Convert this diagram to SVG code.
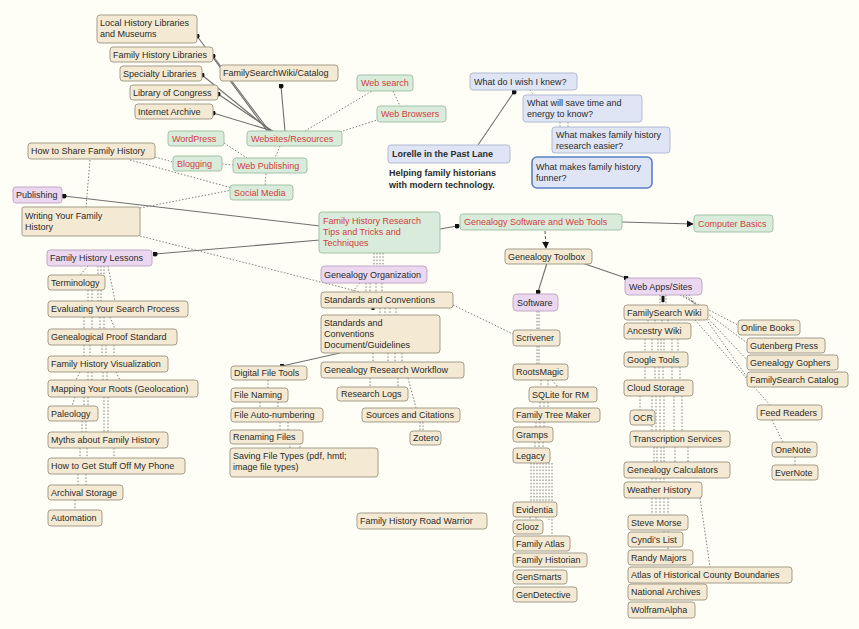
<svg xmlns="http://www.w3.org/2000/svg" width="859" height="629" viewBox="0 0 859 629">
<defs>
<style>
text{font-family:"Liberation Sans",Arial,sans-serif;font-size:9px;fill:#2b2b2b}
.r{fill:#d23c3c}
.bd{font-weight:bold}
.b{fill:#f4e9d2;stroke:#a49d8c;stroke-width:1}
.g{fill:#d9ecdb;stroke:#a3c2a7;stroke-width:1}
.p{fill:#ebd7ef;stroke:#c0a8c6;stroke-width:1}
.q{fill:#dfe5f5;stroke:#b0bad3;stroke-width:1}
.qs{fill:#dfe5f5;stroke:#5a7fc6;stroke-width:1.6}
.s{stroke:#6f6f6f;stroke-width:1.1;fill:none}
.d{stroke:#7d7d7d;stroke-width:1;fill:none;stroke-dasharray:1.5 1.8}
.dd{stroke:#555;stroke-width:1;fill:none;stroke-dasharray:3 2}
</style>
<marker id="dot" viewBox="0 0 6 6" refX="3" refY="3" markerWidth="5" markerHeight="5" markerUnits="userSpaceOnUse"><circle cx="3" cy="3" r="3" fill="#111"/></marker>
<marker id="arr" viewBox="0 0 10 10" refX="9" refY="5" markerWidth="7" markerHeight="7" markerUnits="userSpaceOnUse" orient="auto"><path d="M0,0L10,5L0,10z" fill="#111"/></marker>
</defs>
<rect width="859" height="629" fill="#fffef6"/>
<g id="connectors">
<line class="s" x1="268" y1="132" x2="197" y2="36" marker-end="url(#dot)"/>
<line class="s" x1="270" y1="132" x2="213" y2="56" marker-end="url(#dot)"/>
<line class="s" x1="272" y1="132" x2="202" y2="75" marker-end="url(#dot)"/>
<line class="s" x1="274" y1="132" x2="218" y2="94" marker-end="url(#dot)"/>
<line class="s" x1="276" y1="132" x2="213" y2="113" marker-end="url(#dot)"/>
<line class="s" x1="285" y1="131" x2="281" y2="86" marker-end="url(#dot)"/>
<line class="d" x1="305" y1="131" x2="372" y2="91"/>
<line class="d" x1="340" y1="132" x2="377" y2="120"/>
<line class="d" x1="393" y1="91" x2="400" y2="106"/>
<line class="d" x1="224" y1="143" x2="247" y2="158"/>
<line class="d" x1="222" y1="164" x2="233" y2="165"/>
<line class="d" x1="280" y1="146" x2="275" y2="158"/>
<line class="d" x1="265" y1="185" x2="266" y2="173"/>
<line class="d" x1="155" y1="157" x2="173" y2="162"/>
<line class="d" x1="130" y1="160" x2="232" y2="188"/>
<line class="d" x1="140" y1="208" x2="232" y2="190"/>
<line class="d" x1="90" y1="160" x2="86" y2="207"/>
<line class="d" x1="140" y1="236" x2="360" y2="292"/>
<line class="s" x1="320" y1="226" x2="64" y2="196" marker-end="url(#dot)"/>
<line class="s" x1="320" y1="240" x2="155" y2="254" marker-end="url(#dot)"/>
<line class="s" x1="440" y1="229" x2="457" y2="226" marker-end="url(#dot)"/>
<line class="s" x1="622" y1="222" x2="693" y2="224" marker-end="url(#arr)"/>
<line class="dd" x1="545" y1="231" x2="546" y2="248" marker-end="url(#arr)"/>
<line class="s" x1="547" y1="263" x2="538" y2="292" marker-end="url(#dot)"/>
<line class="s" x1="582" y1="263" x2="626" y2="278" marker-end="url(#dot)"/>
<line class="s" x1="340" y1="353" x2="282" y2="366" marker-end="url(#dot)"/>
<line class="s" x1="478" y1="145" x2="514" y2="92" marker-end="url(#dot)"/>
<!-- central to organization -->
<path class="d" d="M374,253V266M377,253V266M380,253V266M383,253V266"/>
<path class="d" d="M360,283L352,292M366,283V292M370,283V292M376,283V292M382,283V292"/>
<path class="d" d="M380,308V315M385,308V315M390,308V315M396,308V315"/>
<line x1="373" y1="308" x2="373" y2="310" stroke="#111" stroke-width="3"/>
<path class="d" d="M373,353V362M388,353V362M395,353V362M402,353V362"/>
<path class="d" d="M370,378V387M408,378L416,408M398,378V387M420,422V431M423,422V431"/>
<path class="d" d="M268,380V388M260,402V408M278,402V408M280,422V430M288,422V430M290,443V448M300,443V448"/>
<line class="d" x1="453" y1="305" x2="513" y2="334"/>
<!-- lessons column -->
<path class="d" d="M88,266L80,275M98,266V275M101,266V275M104,266V275M108,266L115,301"/>
<path class="d" d="M88,290V301M92,290V301M98,290V301M101,290V301"/>
<path class="d" d="M84,317V329M92,317V329M100,317V329M104,317V329M110,317L115,329"/>
<path class="d" d="M84,345V356M90,345V356M102,345V356M106,345V356M114,345V356"/>
<path class="d" d="M80,372L76,380M88,372V380M92,372V380M103,372V380M107,372V380M116,372L120,380"/>
<path class="d" d="M75,397L72,406M84,397V406M88,397V406M104,397V432M108,397V432"/>
<path class="d" d="M82,421V432M86,421V432"/>
<path class="d" d="M80,448V458M87,448V458M114,448V458"/>
<path class="d" d="M78,474V485M86,474V485"/>
<path class="d" d="M75,500V510"/>
<!-- software column -->
<path class="d" d="M537,311V330M539,311V330"/>
<path class="d" d="M537,346V364M539,346V364"/>
<path class="d" d="M541,380V387M548,380V387M552,380L558,387"/>
<path class="d" d="M540,402V408M544,402V408M548,402V408"/>
<path class="d" d="M536,422V427M540,422V427M544,422V427"/>
<path class="d" d="M535,442V448M539,442V448M543,442V448"/>
<path class="d" d="M531,463V502M534,463V502M537,463V502M540,463V502M543,463V502M546,463V502M549,463V520M552,463V536"/>
<path class="d" d="M530,517V520M536,517V520"/>
<!-- web apps column -->
<path class="d" d="M660,295V305M663,295V305M666,295V305"/>
<line x1="663" y1="296" x2="663" y2="302" stroke="#111" stroke-width="3"/>
<path class="d" d="M648,320V323M655,320V323M662,320V323M668,320V323"/>
<path class="d" d="M645,339V352M652,339V352M658,339V352M661,339V352M664,339V352M672,339V352M678,339V352"/>
<path class="d" d="M645,367V380M655,367V380M659,367V380M663,367V380M672,367V380M680,367V380"/>
<path class="d" d="M640,396V410M652,396V431M656,396V431M660,396V431M664,396V431M674,396V431M682,396V431"/>
<path class="d" d="M654,447V462M657,447V462M661,447V462M664,447V462M675,447V462M688,447V462"/>
<path class="d" d="M652,478V482M656,478V482M660,478V482M664,478V482"/>
<path class="d" d="M652,498V515M656,498V515M660,498V515M664,498V532M668,498V550"/>
<line class="d" x1="700" y1="498" x2="710" y2="567"/>
<line class="d" x1="680" y1="295" x2="738" y2="325"/>
<line class="d" x1="683" y1="295" x2="747" y2="343"/>
<line class="d" x1="686" y1="295" x2="747" y2="360"/>
<line class="d" x1="689" y1="295" x2="747" y2="377"/>
<line class="d" x1="695" y1="320" x2="770" y2="405"/>
<line class="d" x1="772" y1="420" x2="783" y2="442"/>
<line class="d" x1="795" y1="457" x2="795" y2="465"/>
<path class="d" d="M530,90L534,95M560,122V127M568,122V127"/>
</g>
<g id="n-local-history"><rect class="b" x="97" y="15" width="100" height="28" rx="3"/><text x="100" y="26">Local History Libraries</text><text x="100" y="37">and Museums</text></g>
<g id="n-family-history-libraries"><rect class="b" x="110" y="47" width="103" height="15" rx="3"/><text x="113" y="58">Family History Libraries</text></g>
<g id="n-specialty-libraries"><rect class="b" x="120" y="66" width="82" height="15" rx="3"/><text x="123" y="77">Specialty Libraries</text></g>
<g id="n-library-of-congress"><rect class="b" x="130" y="85" width="88" height="15" rx="3"/><text x="133" y="96">Library of Congress</text></g>
<g id="n-internet-archive"><rect class="b" x="135" y="104" width="78" height="15" rx="3"/><text x="138" y="115">Internet Archive</text></g>
<g id="n-familysearch-wiki-catalog"><rect class="b" x="220" y="65" width="118" height="16" rx="3"/><text x="223" y="76">FamilySearchWiki/Catalog</text></g>
<g id="n-web-search"><rect class="g" x="357" y="75" width="56" height="16" rx="3"/><text class="r" x="361" y="86">Web search</text></g>
<g id="n-web-browsers"><rect class="g" x="377" y="106" width="69" height="16" rx="3"/><text class="r" x="381" y="117">Web Browsers</text></g>
<g id="n-websites-resources"><rect class="g" x="247" y="131" width="95" height="15" rx="3"/><text class="r" x="251" y="142">Websites/Resources</text></g>
<g id="n-wordpress"><rect class="g" x="168" y="131" width="56" height="15" rx="3"/><text class="r" x="172" y="142">WordPress</text></g>
<g id="n-blogging"><rect class="g" x="173" y="156" width="49" height="15" rx="3"/><text class="r" x="177" y="167">Blogging</text></g>
<g id="n-web-publishing"><rect class="g" x="233" y="158" width="74" height="15" rx="3"/><text class="r" x="237" y="169">Web Publishing</text></g>
<g id="n-social-media"><rect class="g" x="230" y="185" width="63" height="15" rx="3"/><text class="r" x="234" y="196">Social Media</text></g>
<g id="n-how-to-share"><rect class="b" x="28" y="143" width="127" height="16" rx="3"/><text x="31" y="154">How to Share Family History</text></g>
<g id="n-publishing"><rect class="p" x="13" y="187" width="49" height="16" rx="3"/><text x="16" y="198">Publishing</text></g>
<g id="n-writing"><rect class="b" x="22" y="207" width="118" height="29" rx="2"/><text x="25" y="219">Writing Your Family</text><text x="25" y="230">History</text></g>
<g id="n-fh-lessons"><rect class="p" x="47" y="250" width="105" height="16" rx="3"/><text x="50" y="261">Family History Lessons</text></g>
<g id="n-terminology"><rect class="b" x="48" y="275" width="57" height="15" rx="3"/><text x="51" y="286">Terminology</text></g>
<g id="n-evaluating"><rect class="b" x="48" y="301" width="140" height="16" rx="3"/><text x="51" y="312">Evaluating Your Search Process</text></g>
<g id="n-proof-standard"><rect class="b" x="48" y="329" width="129" height="16" rx="3"/><text x="51" y="340">Genealogical Proof Standard</text></g>
<g id="n-visualization"><rect class="b" x="48" y="356" width="120" height="16" rx="3"/><text x="51" y="367">Family History Visualization</text></g>
<g id="n-mapping"><rect class="b" x="48" y="380" width="150" height="17" rx="3"/><text x="51" y="392">Mapping Your Roots (Geolocation)</text></g>
<g id="n-paleology"><rect class="b" x="48" y="406" width="50" height="15" rx="3"/><text x="51" y="417">Paleology</text></g>
<g id="n-myths"><rect class="b" x="48" y="432" width="120" height="16" rx="3"/><text x="51" y="443">Myths about Family History</text></g>
<g id="n-phone"><rect class="b" x="48" y="458" width="137" height="16" rx="3"/><text x="51" y="469">How to Get Stuff Off My Phone</text></g>
<g id="n-archival"><rect class="b" x="48" y="485" width="75" height="15" rx="3"/><text x="51" y="496">Archival Storage</text></g>
<g id="n-automation"><rect class="b" x="48" y="510" width="54" height="16" rx="3"/><text x="51" y="521">Automation</text></g>
<g id="n-central"><rect class="g" x="319" y="212" width="121" height="41" rx="3"/><text class="r" x="323" y="224">Family History Research</text><text class="r" x="323" y="235">Tips and Tricks and</text><text class="r" x="323" y="246">Techniques</text></g>
<g id="n-gen-org"><rect class="p" x="321" y="266" width="106" height="17" rx="4"/><text x="324" y="278">Genealogy Organization</text></g>
<g id="n-standards"><rect class="b" x="321" y="292" width="132" height="16" rx="3"/><text x="324" y="303">Standards and Conventions</text></g>
<g id="n-standards-doc"><rect class="b" x="321" y="315" width="119" height="38" rx="3"/><text x="324" y="326">Standards and</text><text x="324" y="337">Conventions</text><text x="324" y="348">Document/Guidelines</text></g>
<g id="n-workflow"><rect class="b" x="321" y="362" width="143" height="16" rx="3"/><text x="324" y="373">Genealogy Research Workflow</text></g>
<g id="n-research-logs"><rect class="b" x="337" y="387" width="71" height="14" rx="3"/><text x="341" y="397">Research Logs</text></g>
<g id="n-sources"><rect class="b" x="362" y="408" width="98" height="14" rx="3"/><text x="366" y="418">Sources and Citations</text></g>
<g id="n-zotero"><rect class="b" x="410" y="431" width="31" height="14" rx="3"/><text x="413" y="441">Zotero</text></g>
<g id="n-digital-file-tools"><rect class="b" x="231" y="366" width="76" height="14" rx="3"/><text x="234" y="376">Digital File Tools</text></g>
<g id="n-file-naming"><rect class="b" x="231" y="388" width="57" height="14" rx="3"/><text x="234" y="398">File Naming</text></g>
<g id="n-file-auto"><rect class="b" x="231" y="408" width="92" height="14" rx="3"/><text x="234" y="418">File Auto-numbering</text></g>
<g id="n-renaming"><rect class="b" x="230" y="430" width="73" height="14" rx="3"/><text x="233" y="440">Renaming Files</text></g>
<g id="n-saving"><rect class="b" x="230" y="448" width="148" height="29" rx="3"/><text x="233" y="459">Saving File Types (pdf, hmtl;</text><text x="233" y="470">image file types)</text></g>
<g id="n-road-warrior"><rect class="b" x="357" y="513" width="130" height="16" rx="3"/><text x="360" y="524">Family History Road Warrior</text></g>
<g id="n-gen-software-web"><rect class="g" x="460" y="214" width="162" height="16" rx="3"/><text class="r" x="464" y="225">Genealogy Software and Web Tools</text></g>
<g id="n-computer-basics"><rect class="g" x="694" y="215" width="79" height="17" rx="3"/><text class="r" x="698" y="227">Computer Basics</text></g>
<g id="n-toolbox"><rect class="b" x="505" y="249" width="87" height="15" rx="3"/><text x="508" y="260">Genealogy Toolbox</text></g>
<g id="n-software"><rect class="p" x="513" y="294" width="45" height="17" rx="4"/><text x="517" y="306">Software</text></g>
<g id="n-web-apps"><rect class="p" x="625" y="278" width="77" height="17" rx="4"/><text x="629" y="290">Web Apps/Sites</text></g>
<g id="n-scrivener"><rect class="b" x="513" y="330" width="47" height="16" rx="3"/><text x="516" y="341">Scrivener</text></g>
<g id="n-rootsmagic"><rect class="b" x="513" y="364" width="55" height="16" rx="3"/><text x="516" y="375">RootsMagic</text></g>
<g id="n-sqlite"><rect class="b" x="529" y="387" width="68" height="15" rx="3"/><text x="532" y="398">SQLite for RM</text></g>
<g id="n-ftm"><rect class="b" x="513" y="408" width="87" height="14" rx="3"/><text x="516" y="418">Family Tree Maker</text></g>
<g id="n-gramps"><rect class="b" x="513" y="427" width="40" height="15" rx="3"/><text x="516" y="438">Gramps</text></g>
<g id="n-legacy"><rect class="b" x="513" y="448" width="37" height="15" rx="3"/><text x="516" y="459">Legacy</text></g>
<g id="n-evidentia"><rect class="b" x="513" y="502" width="44" height="15" rx="3"/><text x="516" y="513">Evidentia</text></g>
<g id="n-clooz"><rect class="b" x="513" y="520" width="30" height="14" rx="3"/><text x="516" y="530">Clooz</text></g>
<g id="n-family-atlas"><rect class="b" x="513" y="536" width="57" height="15" rx="3"/><text x="516" y="547">Family Atlas</text></g>
<g id="n-family-historian"><rect class="b" x="513" y="553" width="74" height="14" rx="3"/><text x="516" y="563">Family Historian</text></g>
<g id="n-gensmarts"><rect class="b" x="513" y="570" width="54" height="14" rx="3"/><text x="516" y="580">GenSmarts</text></g>
<g id="n-gendetective"><rect class="b" x="513" y="587" width="64" height="15" rx="3"/><text x="516" y="598">GenDetective</text></g>
<g id="n-fs-wiki"><rect class="b" x="624" y="305" width="84" height="15" rx="3"/><text x="627" y="316">FamilySearch Wiki</text></g>
<g id="n-ancestry-wiki"><rect class="b" x="624" y="323" width="67" height="16" rx="3"/><text x="627" y="334">Ancestry Wiki</text></g>
<g id="n-google-tools"><rect class="b" x="624" y="352" width="64" height="15" rx="3"/><text x="627" y="363">Google Tools</text></g>
<g id="n-cloud-storage"><rect class="b" x="624" y="380" width="69" height="16" rx="3"/><text x="627" y="391">Cloud Storage</text></g>
<g id="n-ocr"><rect class="b" x="630" y="410" width="25" height="15" rx="3"/><text x="633" y="421">OCR</text></g>
<g id="n-transcription"><rect class="b" x="630" y="431" width="100" height="16" rx="3"/><text x="633" y="442">Transcription Services</text></g>
<g id="n-calculators"><rect class="b" x="624" y="462" width="106" height="16" rx="3"/><text x="627" y="473">Genealogy Calculators</text></g>
<g id="n-weather"><rect class="b" x="624" y="482" width="78" height="16" rx="3"/><text x="627" y="493">Weather History</text></g>
<g id="n-steve-morse"><rect class="b" x="628" y="515" width="60" height="15" rx="3"/><text x="631" y="526">Steve Morse</text></g>
<g id="n-cyndis-list"><rect class="b" x="628" y="532" width="55" height="15" rx="3"/><text x="631" y="543">Cyndi's List</text></g>
<g id="n-randy-majors"><rect class="b" x="628" y="550" width="65" height="15" rx="3"/><text x="631" y="561">Randy Majors</text></g>
<g id="n-atlas"><rect class="b" x="628" y="567" width="164" height="16" rx="3"/><text x="631" y="578">Atlas of Historical County Boundaries</text></g>
<g id="n-national-archives"><rect class="b" x="628" y="584" width="79" height="16" rx="3"/><text x="631" y="595">National Archives</text></g>
<g id="n-wolfram"><rect class="b" x="628" y="602" width="67" height="16" rx="3"/><text x="631" y="613">WolframAlpha</text></g>
<g id="n-online-books"><rect class="b" x="738" y="320" width="62" height="15" rx="3"/><text x="741" y="331">Online Books</text></g>
<g id="n-gutenberg"><rect class="b" x="747" y="338" width="78" height="15" rx="3"/><text x="750" y="349">Gutenberg Press</text></g>
<g id="n-gophers"><rect class="b" x="747" y="355" width="91" height="15" rx="3"/><text x="750" y="366">Genealogy Gophers</text></g>
<g id="n-fs-catalog"><rect class="b" x="747" y="372" width="101" height="15" rx="3"/><text x="750" y="383">FamilySearch Catalog</text></g>
<g id="n-feed-readers"><rect class="b" x="757" y="405" width="65" height="15" rx="3"/><text x="760" y="416">Feed Readers</text></g>
<g id="n-onenote"><rect class="b" x="772" y="442" width="45" height="15" rx="3"/><text x="775" y="453">OneNote</text></g>
<g id="n-evernote"><rect class="b" x="772" y="465" width="46" height="15" rx="3"/><text x="775" y="476">EverNote</text></g>
<g id="n-wish"><rect class="q" x="470" y="73" width="107" height="17" rx="3"/><text x="474" y="85">What do I wish I knew?</text></g>
<g id="n-save-time"><rect class="q" x="523" y="95" width="119" height="27" rx="3"/><text x="527" y="106">What will save time and</text><text x="527" y="117">energy to know?</text></g>
<g id="n-easier"><rect class="q" x="552" y="127" width="118" height="26" rx="3"/><text x="556" y="138">What makes family history</text><text x="556" y="149">research easier?</text></g>
<g id="n-funner"><rect class="qs" x="532" y="157" width="120" height="31" rx="5"/><text x="536" y="170">What makes family history</text><text x="536" y="181">funner?</text></g>
<g id="n-lorelle"><rect class="q" x="388" y="145" width="122" height="18" rx="3"/><text class="bd" x="392" y="157">Lorelle in the Past Lane</text></g>
<g id="n-tagline"><text class="bd" x="389" y="176">Helping family historians</text><text class="bd" x="389" y="188">with modern technology.</text></g>
</svg>
